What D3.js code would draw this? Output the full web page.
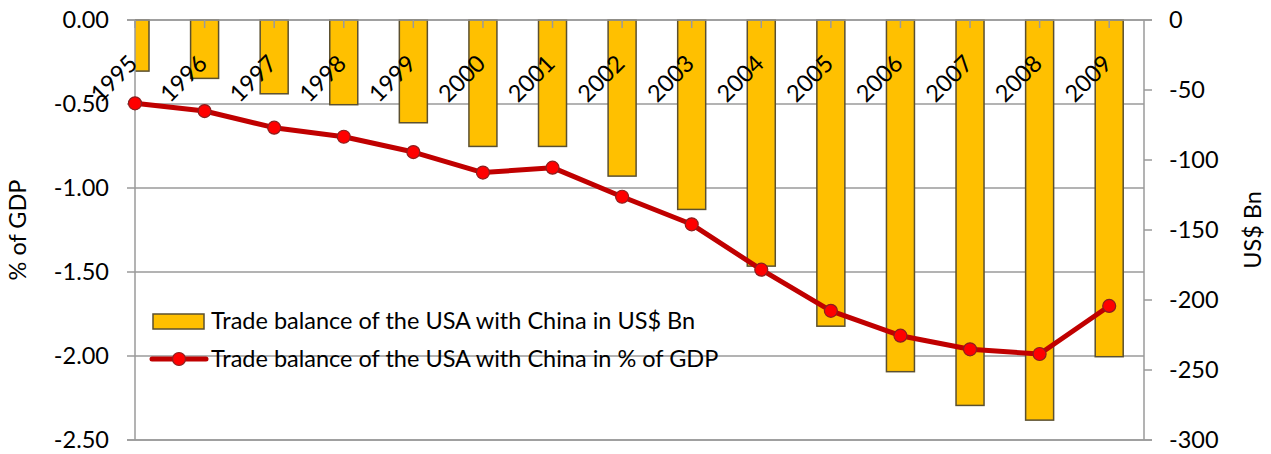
<!DOCTYPE html>
<html><head><meta charset="utf-8">
<script src="https://cdn.jsdelivr.net/npm/d3@7"></script>
<style>body{margin:0;background:#fff}svg{display:block}text{font-family:Lato,"Open Sans",sans-serif;fill:#000}</style>
</head><body>
<svg id="c" width="1271" height="454"></svg>
<script>
const years = ["1995","1996","1997","1998","1999","2000","2001","2002","2003","2004","2005","2006","2007","2008","2009"];
const tradeBn = [-36.5,-41.7,-52.7,-60.5,-73.4,-90.3,-90.3,-111.5,-135.3,-175.8,-218.7,-251.2,-275.3,-285.8,-240.5];
const tradePctGDP = [-0.496,-0.542,-0.641,-0.695,-0.786,-0.908,-0.879,-1.052,-1.216,-1.486,-1.731,-1.879,-1.960,-1.988,-1.702];
const leftTicks = [0,-0.5,-1,-1.5,-2,-2.5];
const rightTicks = [0,-50,-100,-150,-200,-250,-300];
const barName = "Trade balance of the USA with China in US$ Bn";
const lineName = "Trade balance of the USA with China in % of GDP";

const L = 135, R = 1144, T = 20, B = 440;
const svg = d3.select("#c");
const fs = 23.5;
const step = (R - L) / (years.length - 0.5);
const x = d3.scaleBand().domain(years).range([L - step/2, R]).paddingInner(0).paddingOuter(0);
const yL = d3.scaleLinear().domain([-2.5, 0]).range([B, T]);
const yR = d3.scaleLinear().domain([-300, 0]).range([B, T]);
const cx = d => x(d) + x.bandwidth()/2;
const barW = 28;
const grid = "#9a9a9a";
const fmt = d3.formatLocale({decimal: ".", thousands: ",", grouping: [3], currency: ["", ""], minus: "-"}).format(".2f");

svg.append("defs").append("clipPath").attr("id","pc").append("rect")
  .attr("x", L).attr("y", T - 1).attr("width", R - L).attr("height", B - T + 2);

// gridlines
svg.append("g").selectAll("line").data(leftTicks).join("line")
  .attr("x1", L).attr("x2", R).attr("y1", d => yL(d)).attr("y2", d => yL(d))
  .attr("stroke", grid).attr("stroke-width", 1.5);

// bars
svg.append("g").attr("clip-path","url(#pc)").selectAll("rect").data(tradeBn).join("rect")
  .attr("x", (d,i) => cx(years[i]) - barW/2).attr("width", barW)
  .attr("y", yR(0)).attr("height", d => yR(d) - yR(0))
  .attr("fill", "#ffc000").attr("stroke", "#5b5030").attr("stroke-width", 1.5);

// top category axis ticks (inward)
svg.append("g").selectAll("line").data(years).join("line")
  .attr("x1", d => cx(d)).attr("x2", d => cx(d)).attr("y1", T).attr("y2", T + 8)
  .attr("stroke", grid).attr("stroke-width", 1.5);

// axes lines
const ax = svg.append("g").attr("stroke", grid).attr("stroke-width", 1.5);
ax.append("line").attr("x1", L).attr("x2", L).attr("y1", T).attr("y2", B);
ax.append("line").attr("x1", R).attr("x2", R).attr("y1", T).attr("y2", B);
ax.append("line").attr("x1", L - 8).attr("x2", R + 8).attr("y1", T).attr("y2", T);
ax.append("line").attr("x1", L - 8).attr("x2", R + 8).attr("y1", B).attr("y2", B);
ax.selectAll(".lt").data(leftTicks).join("line").attr("x1", L - 8).attr("x2", L)
  .attr("y1", d => yL(d)).attr("y2", d => yL(d));
ax.selectAll(".rt").data(rightTicks).join("line").attr("x1", R).attr("x2", R + 8)
  .attr("y1", d => yR(d)).attr("y2", d => yR(d));

// tick labels
svg.append("g").selectAll("text").data(leftTicks).join("text")
  .attr("x", L - 26).attr("y", d => yL(d)).attr("dy", "0.35em").attr("text-anchor", "end")
  .attr("font-size", fs).text(d => fmt(d));
svg.append("g").selectAll("text").data(rightTicks).join("text")
  .attr("x", R + 25).attr("y", d => yR(d)).attr("dy", "0.35em").attr("text-anchor", "start")
  .attr("font-size", fs).text(d => d);

// year labels
svg.append("g").selectAll("text").data(years).join("text")
  .attr("transform", d => `translate(${cx(d) + 4},${65}) rotate(-45)`)
  .attr("text-anchor", "end").attr("font-size", fs).text(d => d);

// axis titles
svg.append("text").attr("transform", `translate(26,${(T+B)/2}) rotate(-90)`)
  .attr("text-anchor", "middle").attr("font-size", fs).text("% of GDP");
svg.append("text").attr("transform", `translate(1261,${(T+B)/2}) rotate(-90)`)
  .attr("text-anchor", "middle").attr("font-size", fs).text("US$ Bn");

// line
const line = d3.line().x((d,i) => cx(years[i])).y(d => yL(d));
svg.append("path").datum(tradePctGDP).attr("d", line).attr("fill", "none")
  .attr("stroke", "#c00000").attr("stroke-width", 5).attr("stroke-linejoin", "round");
svg.append("g").selectAll("circle").data(tradePctGDP).join("circle")
  .attr("cx", (d,i) => cx(years[i])).attr("cy", d => yL(d)).attr("r", 6.5)
  .attr("fill", "#ff0000").attr("stroke", "#8b1f1f").attr("stroke-width", 1.2);

// legend
const lg = svg.append("g");
lg.append("rect").attr("x", 153).attr("y", 314).attr("width", 51).attr("height", 15)
  .attr("fill", "#ffc000").attr("stroke", "#5b5030").attr("stroke-width", 1.5);
lg.append("text").attr("x", 211).attr("y", 321).attr("dy", "0.35em").attr("font-size", fs).text(barName);
lg.append("line").attr("x1", 152).attr("x2", 206).attr("y1", 359).attr("y2", 359)
  .attr("stroke", "#c00000").attr("stroke-width", 5).attr("stroke-linecap", "round");
lg.append("circle").attr("cx", 179).attr("cy", 359).attr("r", 6.5)
  .attr("fill", "#ff0000").attr("stroke", "#8b1f1f").attr("stroke-width", 1.2);
lg.append("text").attr("x", 211).attr("y", 359).attr("dy", "0.35em").attr("font-size", fs).text(lineName);
</script>
</body></html>
